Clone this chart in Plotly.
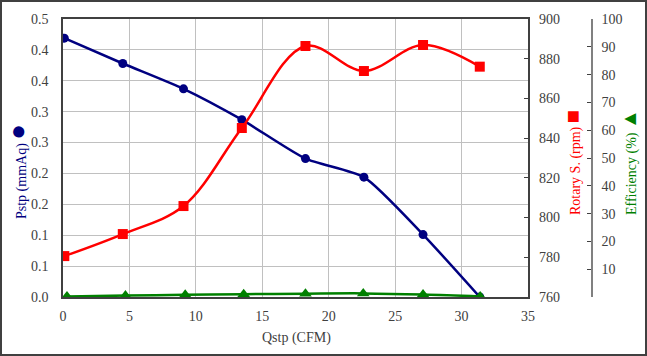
import plotly.graph_objects as go

# ---- data ----
q_cfm = [0.1, 4.5, 9.07, 13.46, 18.25, 22.65, 27.1, 31.37]
pstp_mmaq = [0.419, 0.378, 0.337, 0.287, 0.224, 0.194, 0.101, 0.0]
rotary_rpm = [780.6, 791.7, 805.8, 845.1, 886.4, 873.8, 886.9, 876.0]
eff_q_cfm = [0.3, 4.7, 9.2, 13.6, 18.25, 22.6, 27.1, 31.4]
efficiency_pct = [0.2, 0.5, 0.8, 1.0, 1.2, 1.3, 0.9, 0.2]

x_ticks = [0, 5, 10, 15, 20, 25, 30, 35]
p_tickvals = [0, 0.05, 0.10, 0.15, 0.20, 0.25, 0.30, 0.35, 0.40, 0.45]
p_ticktext = ["0.0", "0.1", "0.1", "0.2", "0.2", "0.3", "0.3", "0.4", "0.4", "0.5"]
rpm_ticks = [760, 780, 800, 820, 840, 860, 880, 900]
eff_tickvals = [0, 10, 20, 30, 40, 50, 60, 70, 80, 90, 100]
eff_ticktext = ["", "10", "20", "30", "40", "50", "60", "70", "80", "90", "100"]

NAVY = "#000080"
RED = "#FF0000"
GREEN = "#008000"
TXT = "#404040"
FONT = "Liberation Serif, DejaVu Serif, serif"

W, H = 647, 356
ML, MR, MT, MB = 63, 55, 19, 59
PW = W - ML - MR
PH = H - MT - MB
plot_right = 528

fig = go.Figure()
fig.add_trace(go.Scatter(
    x=q_cfm, y=pstp_mmaq, mode="lines+markers", name="Pstp",
    line=dict(color=NAVY, width=2.5, shape="spline", smoothing=0.6),
    marker=dict(symbol="circle", size=9, color=NAVY),
    xaxis="x", yaxis="y"))
fig.add_trace(go.Scatter(
    x=q_cfm, y=rotary_rpm, mode="lines+markers", name="Rotary",
    line=dict(color=RED, width=2.5, shape="spline", smoothing=1),
    marker=dict(symbol="square", size=10, color=RED),
    xaxis="x", yaxis="y2"))
fig.add_trace(go.Scatter(
    x=eff_q_cfm, y=efficiency_pct, mode="lines+markers", name="Efficiency",
    line=dict(color=GREEN, width=2.5, shape="spline", smoothing=1),
    marker=dict(symbol="triangle-up", size=11, color=GREEN),
    xaxis="x", yaxis="y3"))

tickfont = dict(family=FONT, size=14, color=TXT)

fig.update_layout(
    width=W, height=H,
    margin=dict(l=ML, r=MR, t=MT, b=MB, pad=0),
    paper_bgcolor="white", plot_bgcolor="white",
    showlegend=False,
    font=dict(family=FONT, size=14, color=TXT),
    xaxis=dict(
        domain=[0, (plot_right - ML) / PW], range=[0, 35],
        tickmode="array", tickvals=x_ticks,
        showgrid=True, gridcolor="#C0C0C0", gridwidth=1,
        showline=True, linecolor="#404040", linewidth=1.5, mirror=True,
        ticks="", tickfont=tickfont, zeroline=False, ticklabelstandoff=5),
    yaxis=dict(
        range=[0, 0.45], tickmode="array", tickvals=p_tickvals, ticktext=p_ticktext,
        showgrid=True, gridcolor="#C0C0C0", gridwidth=1,
        showline=True, linecolor="#404040", linewidth=1.5, mirror=True,
        ticks="", tickfont=tickfont, zeroline=False, ticklabelstandoff=10),
    yaxis2=dict(
        range=[760, 900], tickmode="array", tickvals=rpm_ticks,
        overlaying="y", side="right", anchor="x",
        showgrid=False, showline=False, zeroline=False,
        ticks="inside", ticklen=4, tickcolor="#404040",
        tickfont=tickfont, ticklabelstandoff=10),
    yaxis3=dict(
        range=[0, 100], tickmode="array", tickvals=eff_tickvals, ticktext=eff_ticktext,
        overlaying="y", side="right", anchor="free", position=1.0,
        showgrid=False, zeroline=False,
        showline=True, linecolor="#808080", linewidth=1.5,
        ticks="inside", ticklen=4, tickcolor="#404040",
        tickfont=tickfont, ticklabelstandoff=6),
)

def px_x(px):
    return (px - ML) / PW

def px_y(py):
    return (MT + PH - py) / PH

annots = [
    dict(text="Pstp (mmAq) <span style='font-size:26px'>●</span>", x=px_x(17), y=px_y(172),
         color=NAVY),
    dict(text="Rotary S. (rpm) <span style='font-size:22px'>■</span>", x=px_x(572), y=px_y(163),
         color=RED),
    dict(text="Efficiency (%) <span style='font-size:20px'>▲</span>", x=px_x(629), y=px_y(162),
         color=GREEN),
]
for a in annots:
    fig.add_annotation(text=a["text"], x=a["x"], y=a["y"], xref="paper", yref="paper",
                       xanchor="center", yanchor="middle", textangle=-90, showarrow=False,
                       font=dict(family=FONT, size=14, color=a["color"]))

fig.add_annotation(text="Qstp (CFM)", x=px_x(296), y=px_y(338), xref="paper", yref="paper",
                   xanchor="center", yanchor="middle", showarrow=False,
                   font=dict(family=FONT, size=14, color=TXT))

# outer border of the chart area
fig.add_shape(type="rect", xref="paper", yref="paper",
              x0=px_x(1), x1=px_x(W - 1), y0=px_y(H - 1), y1=px_y(1),
              line=dict(color="#404040", width=2), fillcolor="rgba(0,0,0,0)", layer="below")

fig.write_html("out.html", config={"displayModeBar": False},
               post_script="document.body.style.margin='0';document.body.style.padding='0';")
